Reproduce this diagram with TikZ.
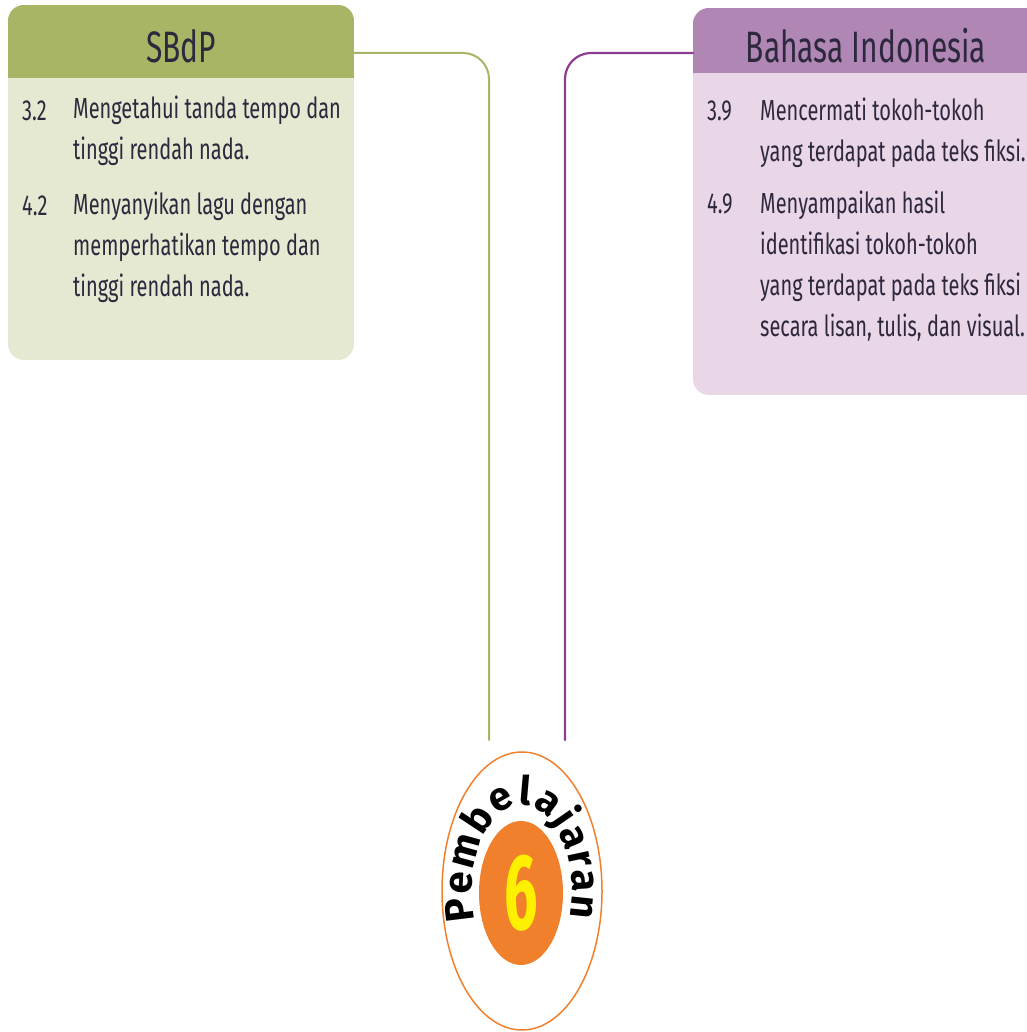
\documentclass[tikz,border=0pt]{standalone}
\usepackage{fontspec}
\setmainfont{Fira Sans}
\newfontfamily\kidfont{Fira Sans}[FakeStretch=0.69]
\newfontfamily\headfont{Fira Sans}[FakeStretch=0.68]
\newfontfamily\sixfont{Fira Sans}[FakeStretch=0.55]
\usetikzlibrary{shapes.geometric,decorations.text}
\definecolor{sbdphead}{RGB}{168,181,101}
\definecolor{sbdpbody}{RGB}{230,233,210}
\definecolor{bindohead}{RGB}{176,135,180}
\definecolor{bindobody}{RGB}{233,214,230}
\definecolor{bindoline}{RGB}{140,60,145}
\definecolor{inkdark}{RGB}{45,40,62}
\definecolor{pemborange}{RGB}{241,128,44}
\definecolor{sixyellow}{RGB}{255,240,0}

\begin{document}
\begin{tikzpicture}[x=1pt,y=1pt,line cap=round,line join=round,
    headtext/.style={font=\headfont\fontsize{44}{44}\selectfont,text=inkdark,
      inner sep=0pt,anchor=base},
    numtext/.style={font=\kidfont\fontsize{29}{41}\selectfont,text=inkdark,
      inner sep=0pt,anchor=base west},
    bodytext/.style={font=\kidfont\fontsize{29}{41}\selectfont,text=inkdark,
      inner sep=0pt,anchor=base west,align=left}]
  \useasboundingbox (0,0) rectangle (1026,1032);
  % SBdP box
  \begin{scope}
    \clip[rounded corners=16pt] (8,672) rectangle (354,1027);
    \fill[sbdpbody] (8,672) rectangle (354,1027);
    \fill[sbdphead] (8,954) rectangle (354,1027);
  \end{scope}
  % Bahasa Indonesia box
  \begin{scope}
    \clip[rounded corners=16pt] (693,637) rectangle (1060,1024);
    \fill[bindobody] (693,637) rectangle (1060,1024);
    \fill[bindohead] (693,959) rectangle (1060,1024);
  \end{scope}
  \node[headtext] (sbdp) at (181,969) {SBdP};
  \node[headtext] (bindo) at (866,969) {Bahasa Indonesia};
  % base of a multi-line node is its last line
  \node[numtext] (k32) at (22,911) {3.2};
  \node[bodytext] (t32) at (73,872) {Mengetahui tanda tempo dan\\tinggi rendah nada.};
  \node[numtext] (k42) at (22,816) {4.2};
  \node[bodytext] (t42) at (73,735) {Menyanyikan lagu dengan\\memperhatikan tempo dan\\tinggi rendah nada.};
  \node[numtext] (k39) at (707,911) {3.9};
  \node[bodytext] (t39) at (760,870) {Mencermati tokoh-tokoh\\yang terdapat pada teks fiksi.};
  \node[numtext] (k49) at (707,818) {4.9};
  \node[bodytext] (t49) at (760,695) {Menyampaikan hasil\\identifikasi tokoh-tokoh\\yang terdapat pada teks fiksi\\secara lisan, tulis, dan visual.};
  % Pembelajaran 6
  \node[ellipse,draw=pemborange,line width=1.5pt,minimum width=160pt,
    minimum height=278pt,inner sep=0pt] (pemb) at (522,141) {};
  \node[ellipse,fill=pemborange,minimum width=84pt,minimum height=144pt,
    inner sep=0pt,text=sixyellow,font=\sixfont\bfseries\fontsize{108}{108}\selectfont]
    (six) at (521,139) {6};
  \path[decorate,decoration={text along path,text={|\bfseries\fontsize{40}{40}\selectfont|Pembelajaran},
      text align={fit to path}}]
    (pemb.center) ++(200:50 and 86) arc[start angle=200,end angle=-18,x radius=50,y radius=86];
  % connectors
  \coordinate (sbdp-out) at (354,979);
  \coordinate (sbdp-end) at (489,292);
  \coordinate (bindo-out) at (693,979);
  \coordinate (bindo-end) at (565,292);
  \draw[sbdphead,line width=2pt,rounded corners=26pt] (sbdp-out) -| (sbdp-end);
  \draw[bindoline,line width=2.2pt,rounded corners=26pt] (bindo-out) -| (bindo-end);
\end{tikzpicture}
\end{document}
